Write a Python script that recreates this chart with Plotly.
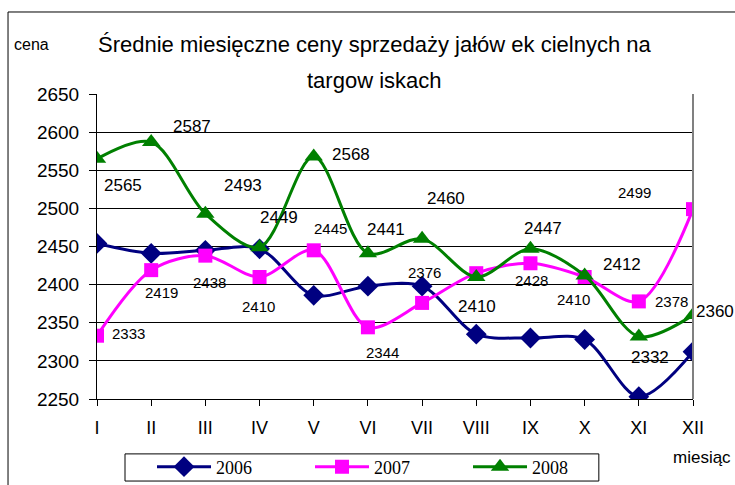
import plotly.graph_objects as go

months = ["I", "II", "III", "IV", "V", "VI", "VII", "VIII", "IX", "X", "XI", "XII"]
y2006 = [2454, 2441, 2445, 2447, 2386, 2398, 2398, 2335, 2330, 2328, 2253, 2312]
y2007 = [2333, 2419, 2438, 2410, 2445, 2344, 2376, 2415, 2428, 2410, 2378, 2499]
y2008 = [2565, 2587, 2493, 2449, 2568, 2441, 2460, 2410, 2447, 2412, 2332, 2360]
labels2007 = ["2333", "2419", "2438", "2410", "2445", "2344", "2376", "", "2428", "2410", "2378", "2499"]
labels2008 = ["2565", "2587", "2493", "2449", "2568", "2441", "2460", "2410", "2447", "2412", "2332", "2360"]
yticks = [2250, 2300, 2350, 2400, 2450, 2500, 2550, 2600, 2650]

# pixel offsets of the value labels from their points (style, not data)
off2007 = [(31, 2), (10, -22), (4, -27), (-1, -29), (17, 22), (15, -25), (2, 30), (0, 0),
           (1, -17), (-11, -22), (33, 0), (-59, 17)]
off2008 = [(26, -27), (41, 16), (38, 28), (19, 30), (37, 2), (18, 24), (24, 40), (1, -29),
           (13, 20), (37, 11), (11, -21), (22, 4)]

FONT = "Liberation Sans, Arial, sans-serif"
SERIF = "Liberation Serif, Times New Roman, serif"

fig = go.Figure()
fig.add_trace(go.Scatter(x=months, y=y2006, name="2006", mode="lines+markers",
                         line=dict(color="#000080", width=3, shape="spline", smoothing=0.9),
                         marker=dict(symbol="diamond", size=16, color="#000080")))
fig.add_trace(go.Scatter(x=months, y=y2007, name="2007", mode="lines+markers",
                         line=dict(color="#FF00FF", width=3, shape="spline", smoothing=0.9),
                         marker=dict(symbol="square", size=14, color="#FF00FF")))
fig.add_trace(go.Scatter(x=months, y=y2008, name="2008", mode="lines+markers",
                         line=dict(color="#008000", width=3, shape="spline", smoothing=0.9),
                         marker=dict(symbol="triangle-up", size=16, color="#008000")))

annotations = []
for m, v, t, (dx, dy) in zip(months, y2007, labels2007, off2007):
    if t:
        annotations.append(dict(x=m, y=v, text=t, showarrow=False, xshift=dx, yshift=dy,
                                font=dict(family=FONT, size=15, color="black")))
for m, v, t, (dx, dy) in zip(months, y2008, labels2008, off2008):
    annotations.append(dict(x=m, y=v, text=t, showarrow=False, xshift=dx, yshift=dy,
                            font=dict(family=FONT, size=17, color="black")))

annotations += [
    dict(xref="paper", yref="paper", x=0.4648, y=1.1607, xanchor="center", yanchor="middle",
         text="Średnie miesięczne ceny sprzedaży jałów ek cielnych na", showarrow=False,
         font=dict(family=FONT, size=22, color="black")),
    dict(xref="paper", yref="paper", x=0.4648, y=1.0459, xanchor="center", yanchor="middle",
         text="targow iskach", showarrow=False,
         font=dict(family=FONT, size=22, color="black")),
    dict(xref="paper", yref="paper", x=-0.1426, y=1.1607, xanchor="left", yanchor="middle",
         text="cena", showarrow=False, font=dict(family=FONT, size=16, color="black")),
    dict(xref="paper", yref="paper", x=1.067, y=-0.193, xanchor="right", yanchor="middle",
         text="miesiąc", showarrow=False, font=dict(family=FONT, size=17, color="black")),
]

shapes = [
    # outer chart frame
    dict(type="rect", xref="paper", yref="paper", x0=-0.1493, x1=1.09, y0=-0.32, y1=1.2689,
         line=dict(color="black", width=1), layer="below"),
    # right border of plot area
    dict(type="line", xref="paper", yref="paper", x0=1, x1=1, y0=0, y1=1,
         line=dict(color="#808080", width=2)),
    # legend frame
    dict(type="rect", xref="paper", yref="paper", x0=0.047, x1=0.842, y0=-0.269, y1=-0.180,
         line=dict(color="black", width=1), layer="below"),
]

fig.update_layout(
    width=735, height=485,
    margin=dict(l=97, r=42, t=94, b=86, autoexpand=False),
    paper_bgcolor="white", plot_bgcolor="white",
    font=dict(family=FONT, color="black"),
    showlegend=True,
    legend=dict(orientation="h", x=0.0923, y=-0.223, xanchor="left", yanchor="middle",
                borderwidth=0, bgcolor="rgba(0,0,0,0)",
                font=dict(family=SERIF, size=18, color="black"),
                entrywidth=89, entrywidthmode="pixels", itemwidth=54,
                tracegroupgap=0),
    annotations=annotations,
    shapes=shapes,
)
fig.update_xaxes(type="category", range=[0, 11], showline=True, linecolor="black", linewidth=1,
                 ticks="outside", ticklen=6, tickcolor="black", showgrid=False,
                 tickfont=dict(family=FONT, size=18), ticklabelstandoff=6)
fig.update_yaxes(range=[2250, 2650], tickvals=yticks, showline=True, linecolor="black", linewidth=1,
                 ticks="outside", ticklen=7, tickcolor="black", showgrid=True, gridcolor="black",
                 gridwidth=1, tickfont=dict(family=FONT, size=19), ticklabelstandoff=6,
                 zeroline=False)

fig.write_html("out.html", config={"displayModeBar": False},
               post_script="document.body.style.margin='0';document.body.style.padding='0';")
